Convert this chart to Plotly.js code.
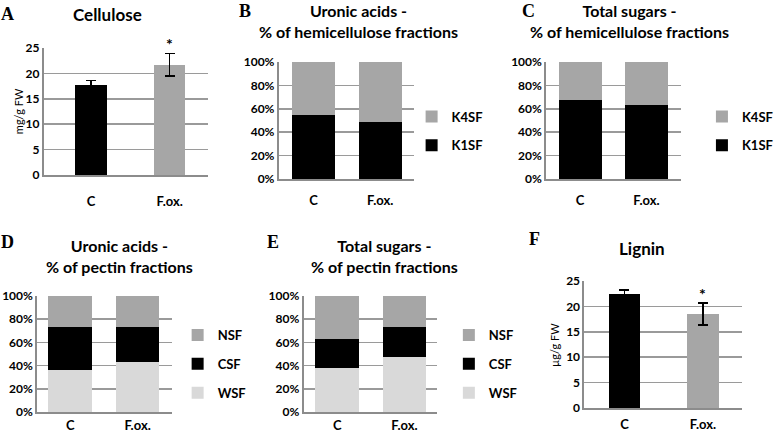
<!DOCTYPE html>
<html>
<head>
<meta charset="utf-8">
<script src="https://cdn.plot.ly/plotly-3.0.1.min.js"></script>
<style>html,body{margin:0;padding:0;background:#fff;}#chart{width:778px;height:435px;}</style>
</head>
<body>
<div id="chart"></div>
<script>
// ---- data ----
var categories = ['C', 'F.ox.'];
var cellulose = [17.8, 21.7];
var celluloseErr = [0.8, 2.25];
var lignin = [22.4, 18.5];
var ligninErr = [0.8, 2.2];
var uronicHemiK1SF = [55.0, 48.7];
var uronicHemiK4SF = [45.0, 51.3];
var sugarsHemiK1SF = [67.8, 63.5];
var sugarsHemiK4SF = [32.2, 36.5];
var uronicPecWSF = [36.0, 43.0];
var uronicPecCSF = [37.0, 30.0];
var uronicPecNSF = [27.0, 27.0];
var sugarsPecWSF = [38.2, 47.7];
var sugarsPecCSF = [24.7, 25.7];
var sugarsPecNSF = [37.1, 26.6];
var yTicksAbs = [0, 5, 10, 15, 20, 25];
var yTicksPct = [0, 20, 40, 60, 80, 100];
var yTickTextPct = ['0%', '20%', '40%', '60%', '80%', '100%'];

// ---- styling ----
var W = 778, H = 435;
var FONT = 'Lato, "Open Sans", sans-serif';
var BLACK = '#000000', GRAY = '#a6a6a6', LIGHT = '#d9d9d9';
function px(a, b) { return [a / W, b / W]; }
function py(top, bottom) { return [1 - bottom / H, 1 - top / H]; }

function xax(domain, range, anchor, standoff) {
  return {domain: domain, range: range, anchor: anchor, type: 'category',
    showgrid: false, zeroline: false, showline: true, linecolor: '#8c8c8c', linewidth: 2,
    ticks: '', ticklabelstandoff: standoff, tickfont: {family: FONT, size: 13, color: '#000', weight: 'bold'},
    fixedrange: true};
}
function yax(domain, range, anchor, tickvals, ticktext) {
  var a = {domain: domain, range: range, anchor: anchor,
    tickmode: 'array', tickvals: tickvals,
    showgrid: true, gridcolor: '#9a9a9a', gridwidth: 1.5, zeroline: false,
    showline: true, linecolor: '#8c8c8c', linewidth: 2, ticks: '',
    tickfont: {family: FONT, size: 12, color: '#000', weight: 'bold'}, fixedrange: true};
  if (ticktext) a.ticktext = ticktext;
  return a;
}

var traces = [];
// A: Cellulose
traces.push({type: 'bar', x: categories, y: cellulose, xaxis: 'x', yaxis: 'y',
  width: 0.4, marker: {color: [BLACK, GRAY]}, showlegend: false,
  error_y: {type: 'data', array: celluloseErr, visible: true, color: '#000', thickness: 1.5, width: 5}});
// B: Uronic acids hemicellulose
traces.push({type: 'bar', name: 'K1SF', x: categories, y: uronicHemiK1SF, xaxis: 'x2', yaxis: 'y2',
  width: 0.65, marker: {color: BLACK}, legend: 'legend', legendgroup: 'b1', legendrank: 2});
traces.push({type: 'bar', name: 'K4SF', x: categories, y: uronicHemiK4SF, xaxis: 'x2', yaxis: 'y2',
  width: 0.65, marker: {color: GRAY}, legend: 'legend', legendgroup: 'b2', legendrank: 1});
// C: Total sugars hemicellulose
traces.push({type: 'bar', name: 'K1SF', x: categories, y: sugarsHemiK1SF, xaxis: 'x3', yaxis: 'y3',
  width: 0.65, marker: {color: BLACK}, legend: 'legend2', legendgroup: 'c1', legendrank: 2});
traces.push({type: 'bar', name: 'K4SF', x: categories, y: sugarsHemiK4SF, xaxis: 'x3', yaxis: 'y3',
  width: 0.65, marker: {color: GRAY}, legend: 'legend2', legendgroup: 'c2', legendrank: 1});
// D: Uronic acids pectin
traces.push({type: 'bar', name: 'WSF', x: categories, y: uronicPecWSF, xaxis: 'x4', yaxis: 'y4',
  width: 0.65, marker: {color: LIGHT}, legend: 'legend3', legendgroup: 'd1', legendrank: 3});
traces.push({type: 'bar', name: 'CSF', x: categories, y: uronicPecCSF, xaxis: 'x4', yaxis: 'y4',
  width: 0.65, marker: {color: BLACK}, legend: 'legend3', legendgroup: 'd2', legendrank: 2});
traces.push({type: 'bar', name: 'NSF', x: categories, y: uronicPecNSF, xaxis: 'x4', yaxis: 'y4',
  width: 0.65, marker: {color: GRAY}, legend: 'legend3', legendgroup: 'd3', legendrank: 1});
// E: Total sugars pectin
traces.push({type: 'bar', name: 'WSF', x: categories, y: sugarsPecWSF, xaxis: 'x5', yaxis: 'y5',
  width: 0.65, marker: {color: LIGHT}, legend: 'legend4', legendgroup: 'e1', legendrank: 3});
traces.push({type: 'bar', name: 'CSF', x: categories, y: sugarsPecCSF, xaxis: 'x5', yaxis: 'y5',
  width: 0.65, marker: {color: BLACK}, legend: 'legend4', legendgroup: 'e2', legendrank: 2});
traces.push({type: 'bar', name: 'NSF', x: categories, y: sugarsPecNSF, xaxis: 'x5', yaxis: 'y5',
  width: 0.65, marker: {color: GRAY}, legend: 'legend4', legendgroup: 'e3', legendrank: 1});
// F: Lignin
traces.push({type: 'bar', x: categories, y: lignin, xaxis: 'x6', yaxis: 'y6',
  width: 0.4, marker: {color: [BLACK, GRAY]}, showlegend: false,
  error_y: {type: 'data', array: ligninErr, visible: true, color: '#000', thickness: 1.5, width: 5}});

function legendAt(xpx, ypx) {
  return {x: xpx / W, y: 1 - ypx / H, xanchor: 'left', yanchor: 'middle', orientation: 'v',
    traceorder: 'grouped', tracegroupgap: 9, bgcolor: 'rgba(0,0,0,0)',
    font: {family: FONT, size: 13, color: '#000', weight: 'bold'}, itemclick: false, itemdoubleclick: false};
}

function ann(text, xpx, ypx, size, family, extra) {
  var a = {text: text, x: xpx / W, y: 1 - ypx / H, xref: 'paper', yref: 'paper',
    xanchor: 'center', yanchor: 'middle', showarrow: false,
    font: {family: family || FONT, size: size, color: '#000', weight: 'bold'}};
  for (var k in extra) a[k] = extra[k];
  return a;
}
var SERIF = '"Liberation Serif", "DejaVu Serif", serif';
var annotations = [
  ann('A', 8, 14, 18, SERIF), ann('B', 257, 11, 18, SERIF), ann('C', 553, 11, 18, SERIF),
  ann('D', 8, 242, 18, SERIF), ann('E', 286, 242, 18, SERIF), ann('F', 560, 239, 18, SERIF),
  ann('Cellulose', 113, 14, 17),
  ann('Uronic acids -<br>% of hemicellulose fractions', 375, 21, 16),
  ann('Total sugars -<br>% of hemicellulose fractions', 659, 21, 16),
  ann('Uronic acids -<br>% of pectin fractions', 125, 256, 16),
  ann('Total sugars -<br>% of pectin fractions', 403, 256, 16),
  ann('Lignin', 672, 248, 17),
  ann('mg/g FW', 19, 111, 11, FONT, {textangle: -90, font: {family: FONT, size: 11, color: '#000'}}),
  ann('µg/g FW', 580, 345, 11, FONT, {textangle: -90, font: {family: FONT, size: 11, color: '#000'}}),
  // significance asterisks above the error bars of F.ox.
  {text: '*', x: categories[1], y: cellulose[1] + celluloseErr[1], xref: 'x', yref: 'y',
   xanchor: 'center', yanchor: 'bottom', showarrow: false, yshift: -2,
   font: {family: FONT, size: 16, color: '#000', weight: 'bold'}},
  {text: '*', x: categories[1], y: lignin[1] + ligninErr[1], xref: 'x6', yref: 'y6',
   xanchor: 'center', yanchor: 'bottom', showarrow: false, yshift: -2,
   font: {family: FONT, size: 16, color: '#000', weight: 'bold'}}
];

var layout = {
  width: W, height: H, margin: {l: 0, r: 0, t: 0, b: 0},
  paper_bgcolor: '#fff', plot_bgcolor: '#fff',
  barmode: 'stack', bargap: 0.35,
  font: {family: FONT, color: '#000'},
  xaxis: xax(px(46, 218), [-0.6, 1.49], 'y', 13),
  yaxis: yax(py(48, 175), [0, 25], 'x', yTicksAbs),
  xaxis2: xax(px(292, 433), [-0.52, 1.5], 'y2', 8),
  yaxis2: yax(py(62, 179), [0, 100], 'x2', yTicksPct, yTickTextPct),
  xaxis3: xax(px(572, 713), [-0.51, 1.52], 'y3', 8),
  yaxis3: yax(py(62, 179), [0, 100], 'x3', yTicksPct, yTickTextPct),
  xaxis4: xax(px(39, 180), [-0.49, 1.51], 'y4', 0),
  yaxis4: yax(py(296, 412), [0, 100], 'x4', yTicksPct, yTickTextPct),
  xaxis5: xax(px(318, 458), [-0.5, 1.49], 'y5', 0),
  yaxis5: yax(py(296, 412), [0, 100], 'x5', yTicksPct, yTickTextPct),
  xaxis6: xax(px(612, 777), [-0.51, 1.5], 'y6', 3),
  yaxis6: yax(py(281, 408), [0, 25], 'x6', yTicksAbs),
  legend: legendAt(431, 131),
  legend2: legendAt(735, 131),
  legend3: legendAt(186, 364),
  legend4: legendAt(470, 364),
  annotations: annotations,
  showlegend: true
};

Plotly.newPlot('chart', traces, layout, {staticPlot: true, displayModeBar: false});
</script>
</body>
</html>
